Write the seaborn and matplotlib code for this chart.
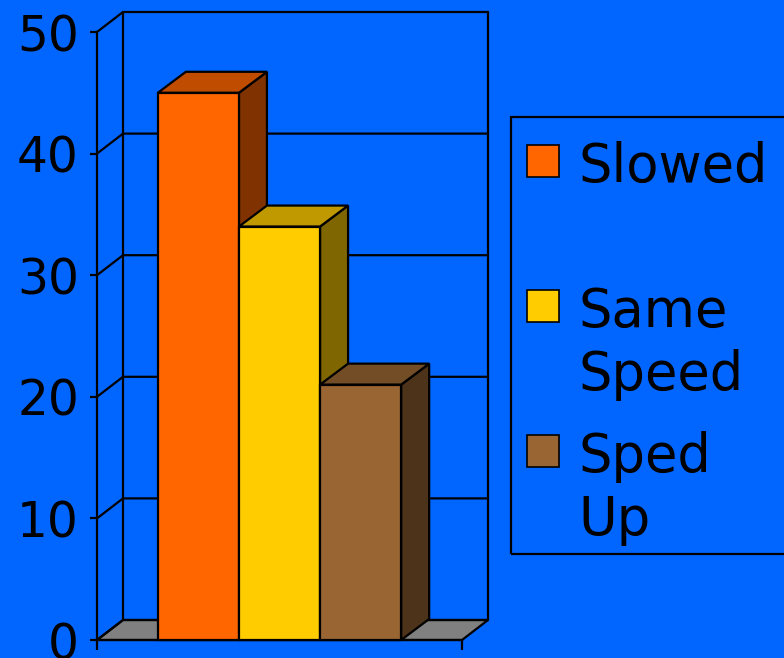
import numpy as np
import pandas as pd
import matplotlib
matplotlib.use("Agg")
import matplotlib.pyplot as plt
from matplotlib.patches import Polygon, Rectangle
import seaborn as sns

# =========================
# Data
# =========================
series = ["Slowed", "Same Speed", "Sped Up"]
legend_labels = ["Slowed", "Same\nSpeed", "Sped\nUp"]
values = [45, 34, 21]
y_ticks = [0, 10, 20, 30, 40, 50]

front_colors = ["#FF6600", "#FFCC00", "#996633"]
top_colors = ["#C04C00", "#C09900", "#734D26"]
side_colors = ["#803300", "#806600", "#4D331A"]

bg = "#0066FF"
floor_color = "#808080"

sns.set_theme(style="white")
plt.rcParams["font.family"] = ["DejaVu Sans"]

W, H = 784, 658
fig = plt.figure(figsize=(W / 100, H / 100), dpi=100, facecolor=bg)
ax = fig.add_axes([97 / W, 18 / H, 365 / W, 608 / H])
ax.set_facecolor("none")

df = pd.DataFrame({"group": [""] * len(series), "series": series, "value": values})

sns.barplot(
    data=df, x="group", y="value", hue="series", hue_order=series,
    palette=front_colors, saturation=1, edgecolor="black", linewidth=1.6,
    width=0.8, legend=False, ax=ax
)

ax.set_xlim(-0.6, 0.6)
ax.set_ylim(0, 50)

# pixel -> data conversion for the depth offsets
ax_w = 365
ax_h = 608
px_x = 1.2 / ax_w
px_y = 50 / ax_h

dxw, dyw = 26 * px_x, 20 * px_y      # wall depth
dxb, dyb = 28 * px_x, 21 * px_y      # bar depth

x0, x1 = ax.get_xlim()

# =========================
# Floor
# =========================
floor = Polygon(
    [(x0, 0), (x1, 0), (x1 + dxw, dyw), (x0 + dxw, dyw)],
    closed=True, facecolor=floor_color, edgecolor="black", linewidth=1.6,
    zorder=1, clip_on=False
)
ax.add_patch(floor)

# =========================
# Back wall / gridlines
# =========================
for yv in y_ticks:
    ax.plot([x0, x0 + dxw, x1 + dxw], [yv, yv + dyw, yv + dyw],
            color="black", linewidth=1.6, zorder=2, clip_on=False,
            solid_joinstyle="miter")
for xv in [x0 + dxw, x1 + dxw]:
    ax.plot([xv, xv], [dyw, y_ticks[-1] + dyw], color="black",
            linewidth=1.6, zorder=2, clip_on=False)

# =========================
# 3D bar faces
# =========================
for i, cont in enumerate(ax.containers):
    rect = cont[0]
    bx = rect.get_x()
    bw = rect.get_width()
    bh = rect.get_height()
    base = 10 + 3 * i
    side = Polygon(
        [(bx + bw, 0), (bx + bw + dxb, dyb), (bx + bw + dxb, bh + dyb), (bx + bw, bh)],
        closed=True, facecolor=side_colors[i], edgecolor="black",
        linewidth=1.6, zorder=base, clip_on=False
    )
    top = Polygon(
        [(bx, bh), (bx + dxb, bh + dyb), (bx + bw + dxb, bh + dyb), (bx + bw, bh)],
        closed=True, facecolor=top_colors[i], edgecolor="black",
        linewidth=1.6, zorder=base + 1, clip_on=False
    )
    ax.add_patch(side)
    ax.add_patch(top)
    rect.set_zorder(base + 2)
    rect.set_clip_on(False)

# =========================
# Axes styling
# =========================
for s in ["top", "right"]:
    ax.spines[s].set_visible(False)
for s in ["left", "bottom"]:
    ax.spines[s].set_color("black")
    ax.spines[s].set_linewidth(1.6)
    ax.spines[s].set_zorder(3)

ax.set_yticks(y_ticks)
ax.set_xticks([x0, x1], ["", ""])
ax.tick_params(axis="y", direction="out", length=5, width=1.6, color="black",
               labelsize=35, labelcolor="black", pad=8, left=True)
ax.tick_params(axis="x", direction="out", length=7, width=1.6, color="black",
               bottom=True)
ax.set_xlabel("")
ax.set_ylabel("")

# =========================
# Legend (Excel style, handles aligned to first line)
# =========================
def fx(px):
    return px / W


def fy(py):
    return 1 - py / H


fig.add_artist(Rectangle(
    (fx(511), fy(554)), fx(800 - 511), (554 - 117) / H,
    transform=fig.transFigure, facecolor="none", edgecolor="black",
    linewidth=1.6, clip_on=False
))

first_baseline = 182
entry_step = 145
line_step = 63
for i, lab in enumerate(legend_labels):
    b = first_baseline + i * entry_step
    fig.add_artist(Rectangle(
        (fx(527), fy(b - 5)), fx(32), 32 / H,
        transform=fig.transFigure, facecolor=front_colors[i],
        edgecolor="black", linewidth=1.2
    ))
    for j, line in enumerate(lab.split("\n")):
        fig.text(fx(578), fy(b + j * line_step), line, fontsize=38,
                 color="black", ha="left", va="baseline")

fig.savefig("out.png", dpi=100, facecolor=bg)
